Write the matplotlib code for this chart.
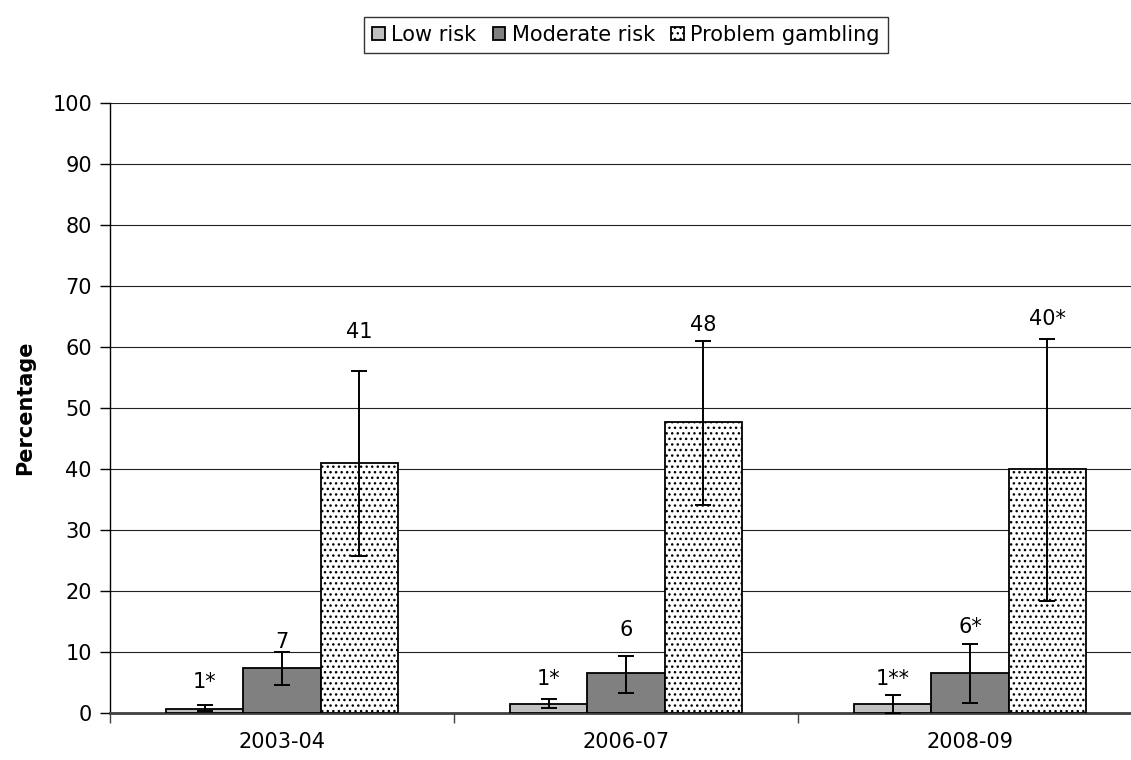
import matplotlib
matplotlib.use("Agg")
import matplotlib.pyplot as plt
import numpy as np

plt.rcParams['font.family'] = ['DejaVu Sans']
plt.rcParams['hatch.linewidth'] = 1.0
plt.rcParams['hatch.color'] = '#333333'

# ---- data ----
years = ["2003-04", "2006-07", "2008-09"]
series = ["Low risk", "Moderate risk", "Problem gambling"]
low_risk = [0.7, 1.4, 1.4]
moderate_risk = [7.4, 6.5, 6.5]
problem_gambling = [40.9, 47.6, 39.9]
low_ci_lo = [0.3, 0.8, 0.0]
low_ci_hi = [1.3, 2.3, 2.9]
mod_ci_lo = [4.6, 3.3, 1.7]
mod_ci_hi = [10.0, 9.4, 11.3]
prob_ci_lo = [25.7, 34.0, 18.3]
prob_ci_hi = [56.0, 61.0, 61.3]
low_labels = ["1*", "1*", "1**"]
mod_labels = ["7", "6", "6*"]
prob_labels = ["41", "48", "40*"]
# label baseline heights (layout, data units)
low_label_y = [4.1, 4.6, 4.6]
mod_label_y = [10.6, 12.6, 13.1]
prob_label_y = [61.4, 62.6, 63.5]

values = [low_risk, moderate_risk, problem_gambling]
ci_lo = [low_ci_lo, mod_ci_lo, prob_ci_lo]
ci_hi = [low_ci_hi, mod_ci_hi, prob_ci_hi]
labels = [low_labels, mod_labels, prob_labels]
label_y = [low_label_y, mod_label_y, prob_label_y]
faces = ["#C0C0C0", "#808080", "white"]
hatches = [None, None, "..."]

fig = plt.figure(figsize=(11.31, 7.6), dpi=100)
ax = fig.add_axes([110/1131, 47/760, 1032/1131, 610.3/760])

x = np.arange(len(years))
w = 0.224
handles = []
for i in range(3):
    pos = x + (i - 1) * w
    v = np.array(values[i])
    err = np.vstack([v - np.array(ci_lo[i]), np.array(ci_hi[i]) - v])
    b = ax.bar(pos, v, width=w, color=faces[i], edgecolor="black",
               linewidth=1.3, hatch=hatches[i], zorder=3, label=series[i])
    handles.append(b)
    ax.errorbar(pos, v, yerr=err, fmt="none", ecolor="black", elinewidth=1.4,
                capsize=5.5, capthick=1.4, zorder=4)
    for p, ly, t in zip(pos, label_y[i], labels[i]):
        ax.text(p, ly, t, ha="center", va="baseline", fontsize=15, zorder=5)

ax.set_xlim(-0.5, 2.5)
ax.set_ylim(0, 100)
ax.set_yticks(np.arange(0, 101, 10))
ax.tick_params(axis="y", labelsize=15, length=7, width=1, direction="out", pad=6)
ax.yaxis.grid(True, color="#202020", linewidth=0.8, zorder=0)
ax.set_axisbelow(True)

ax.set_xticks(x)
ax.set_xticklabels(years, fontsize=15)
ax.tick_params(axis="x", which="major", length=0, pad=14)
ax.set_xticks([-0.5, 0.5, 1.5, 2.5], minor=True)
ax.tick_params(axis="x", which="minor", length=7, width=1, direction="out", color="#404040")

for s in ["top", "right"]:
    ax.spines[s].set_visible(False)
ax.spines["left"].set_color("black")
ax.spines["left"].set_linewidth(1)
ax.spines["bottom"].set_color("#404040")
ax.spines["bottom"].set_linewidth(2)

ax.set_ylabel("Percentage", fontsize=15, fontweight="bold", labelpad=12)

leg = fig.legend(handles=handles, labels=series, loc="center",
                 bbox_to_anchor=(626/1131, 1 - 35/760), ncol=3, fontsize=15,
                 frameon=True, fancybox=False, edgecolor="black",
                 handlelength=0.6, handleheight=0.6, handletextpad=0.3,
                 columnspacing=0.8, borderpad=0.4)
leg.get_frame().set_linewidth(1)

fig.savefig("out.png", dpi=100)
